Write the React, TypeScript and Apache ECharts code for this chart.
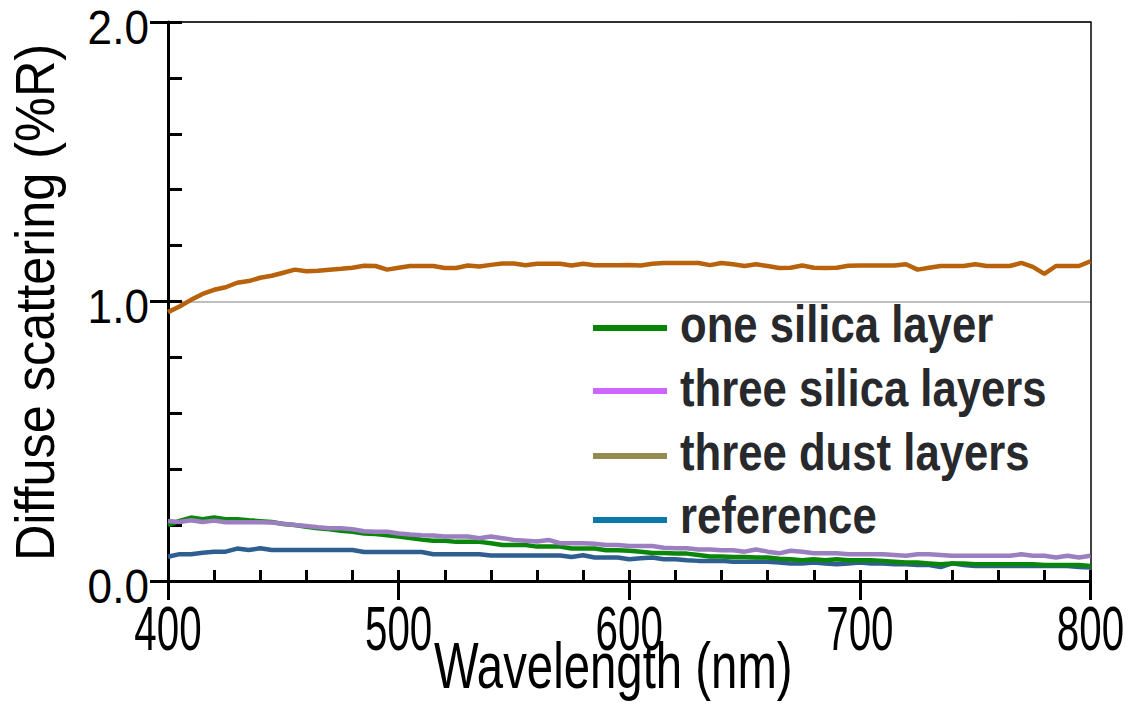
import React, { useEffect, useRef } from "react";
import * as echarts from "echarts";

const wavelengths = [
  400, 405, 410, 415, 420, 425, 430, 435, 440, 445, 450, 455, 460, 465, 470, 475, 480, 485, 490, 495,
  500, 505, 510, 515, 520, 525, 530, 535, 540, 545, 550, 555, 560, 565, 570, 575, 580, 585, 590, 595,
  600, 605, 610, 615, 620, 625, 630, 635, 640, 645, 650, 655, 660, 665, 670, 675, 680, 685, 690, 695,
  700, 705, 710, 715, 720, 725, 730, 735, 740, 745, 750, 755, 760, 765, 770, 775, 780, 785, 790, 795, 800,
];

const threeDust = [
  0.962, 0.982, 1.006, 1.027, 1.042, 1.051, 1.067, 1.073, 1.085, 1.092, 1.103, 1.114, 1.108, 1.11, 1.114, 1.117, 1.121, 1.128, 1.127, 1.114,
  1.121, 1.127, 1.127, 1.127, 1.12, 1.12, 1.129, 1.125, 1.131, 1.136, 1.136, 1.13, 1.135, 1.135, 1.135, 1.129, 1.135, 1.13, 1.13, 1.13,
  1.131, 1.129, 1.135, 1.138, 1.138, 1.138, 1.138, 1.13, 1.138, 1.133, 1.127, 1.133, 1.127, 1.12, 1.121, 1.129, 1.121, 1.12, 1.121, 1.128,
  1.129, 1.129, 1.129, 1.129, 1.133, 1.114, 1.121, 1.127, 1.127, 1.127, 1.133, 1.127, 1.127, 1.127, 1.138, 1.124, 1.099, 1.127, 1.127, 1.127, 1.144,
];

const oneSilica = [
  0.2, 0.215, 0.227, 0.221, 0.227, 0.221, 0.221, 0.217, 0.214, 0.211, 0.204, 0.2, 0.194, 0.189, 0.185, 0.18, 0.176, 0.17, 0.168, 0.164,
  0.159, 0.154, 0.148, 0.144, 0.144, 0.14, 0.14, 0.14, 0.135, 0.129, 0.129, 0.129, 0.123, 0.123, 0.123, 0.116, 0.116, 0.116, 0.11, 0.11,
  0.108, 0.105, 0.1, 0.1, 0.098, 0.098, 0.093, 0.088, 0.088, 0.086, 0.086, 0.084, 0.084, 0.08, 0.078, 0.074, 0.078, 0.074, 0.078, 0.074,
  0.074, 0.074, 0.072, 0.069, 0.066, 0.066, 0.063, 0.06, 0.063, 0.063, 0.06, 0.06, 0.06, 0.06, 0.06, 0.06, 0.057, 0.057, 0.057, 0.057, 0.054,
];

const threeSilica = [
  0.215, 0.211, 0.217, 0.211, 0.216, 0.21, 0.21, 0.21, 0.21, 0.209, 0.205, 0.2, 0.197, 0.192, 0.189, 0.189, 0.185, 0.178, 0.176, 0.176,
  0.17, 0.166, 0.164, 0.163, 0.159, 0.159, 0.159, 0.153, 0.159, 0.153, 0.147, 0.144, 0.141, 0.147, 0.135, 0.135, 0.135, 0.133, 0.129, 0.129,
  0.125, 0.125, 0.125, 0.119, 0.117, 0.117, 0.113, 0.113, 0.11, 0.11, 0.105, 0.113, 0.105, 0.099, 0.108, 0.105, 0.099, 0.099, 0.099, 0.096,
  0.096, 0.096, 0.096, 0.093, 0.09, 0.096, 0.096, 0.093, 0.09, 0.09, 0.09, 0.09, 0.09, 0.09, 0.096, 0.09, 0.09, 0.084, 0.09, 0.084, 0.09,
];

const reference = [
  0.087, 0.096, 0.096, 0.101, 0.105, 0.105, 0.116, 0.111, 0.117, 0.111, 0.111, 0.111, 0.111, 0.111, 0.111, 0.111, 0.111, 0.104, 0.104, 0.104,
  0.104, 0.104, 0.104, 0.096, 0.096, 0.096, 0.096, 0.096, 0.091, 0.091, 0.091, 0.091, 0.091, 0.091, 0.091, 0.086, 0.092, 0.084, 0.084, 0.084,
  0.078, 0.081, 0.084, 0.078, 0.078, 0.074, 0.072, 0.072, 0.072, 0.069, 0.069, 0.069, 0.069, 0.066, 0.063, 0.063, 0.066, 0.063, 0.06, 0.063,
  0.066, 0.063, 0.063, 0.06, 0.06, 0.057, 0.057, 0.05, 0.063, 0.057, 0.054, 0.054, 0.054, 0.054, 0.054, 0.054, 0.054, 0.054, 0.054, 0.05, 0.048,
];

const seriesNames = ["one silica layer", "three silica layers", "three dust layers", "reference"];
const lineColors = ["#0a870a", "#9b7fc0", "#b8620c", "#2f5f90"];
const legendColors = ["#068506", "#cc66ff", "#958b52", "#0a78aa"];

const xTickValues = [400, 500, 600, 700, 800];
const xTickLabels = ["400", "500", "600", "700", "800"];
const yTickValues = [0, 1, 2];
const yTickLabels = ["0.0", "1.0", "2.0"];
const xTitle = "Wavelength (nm)";
const yTitle = "Diffuse scattering (%R)";

const FONT = "'Liberation Sans', Arial, sans-serif";

export default function App() {
  const ref = useRef<HTMLDivElement>(null);

  useEffect(() => {
    document.body.style.margin = "0";
    if (!ref.current) return;
    const chart = echarts.init(ref.current, undefined, { renderer: "svg" });
    const pair = (vals: number[]) => wavelengths.map((w, i) => [w, vals[i]]);
    const dataSets = [oneSilica, threeSilica, threeDust, reference];
    const order = [3, 0, 1, 2];

    const tickStyle = { color: "#000", width: 3 };
    const option: any = {
      animation: false,
      backgroundColor: "#ffffff",
      grid: { left: 168, right: 47.5, top: 22, bottom: 127, containLabel: false, outerBoundsMode: "none" },
      xAxis: [
        {
          type: "value",
          min: 400,
          max: 800,
          interval: 100,
          position: "bottom",
          axisLine: { show: true, onZero: false, lineStyle: { color: "#000", width: 3 } },
          axisTick: { show: true, inside: true, length: 11, lineStyle: tickStyle },
          minorTick: { show: true, splitNumber: 5, length: 11, lineStyle: tickStyle },
          axisLabel: { show: false },
          splitLine: { show: false },
        },
        {
          type: "value",
          min: 400,
          max: 800,
          interval: 100,
          position: "bottom",
          axisLine: { show: false, onZero: false },
          axisTick: { show: true, inside: false, length: 19, lineStyle: tickStyle },
          axisLabel: { show: false },
          splitLine: { show: false },
        },
        {
          type: "value",
          min: 400,
          max: 800,
          position: "top",
          axisLine: { show: true, onZero: false, lineStyle: { color: "#000", width: 1.5 } },
          axisTick: { show: false },
          axisLabel: { show: false },
          splitLine: { show: false },
        },
      ],
      yAxis: [
        {
          type: "value",
          min: 0,
          max: 2,
          interval: 1,
          position: "left",
          axisLine: { show: true, onZero: false, lineStyle: { color: "#000", width: 3 } },
          axisTick: { show: true, inside: true, length: 14, lineStyle: tickStyle },
          minorTick: { show: true, splitNumber: 5, length: 14, lineStyle: tickStyle },
          axisLabel: { show: false },
          splitLine: { show: true, lineStyle: { color: "#a8a8a8", width: 1.5 } },
        },
        {
          type: "value",
          min: 0,
          max: 2,
          interval: 1,
          position: "left",
          axisLine: { show: false, onZero: false },
          axisTick: { show: true, inside: false, length: 18, lineStyle: tickStyle },
          axisLabel: { show: false },
          splitLine: { show: false },
        },
        {
          type: "value",
          min: 0,
          max: 2,
          position: "right",
          axisLine: { show: true, onZero: false, lineStyle: { color: "#000", width: 1.5 } },
          axisTick: { show: false },
          axisLabel: { show: false },
          splitLine: { show: false },
        },
      ],
      series: order.map((i) => ({
        name: seriesNames[i],
        type: "line",
        xAxisIndex: 0,
        yAxisIndex: 0,
        data: pair(dataSets[i]),
        showSymbol: false,
        symbol: "none",
        lineStyle: { color: lineColors[i], width: 4.5 },
        itemStyle: { color: lineColors[i] },
        z: 3,
      })),
    };

    chart.setOption(option);

    const xPix = (v: number) => chart.convertToPixel({ xAxisIndex: 0 }, v) as number;
    const yPix = (v: number) => chart.convertToPixel({ yAxisIndex: 0 }, v) as number;
    const x0 = xPix(400);
    const x1 = xPix(800);
    const yBottom = yPix(0);

    const txt = (text: string, x: number, y: number, opts: any) => ({
      type: "text",
      x,
      y,
      scaleX: opts.scaleX ?? 1,
      rotation: opts.rotation ?? 0,
      z: 10,
      style: {
        text,
        fontSize: opts.fontSize,
        fontFamily: FONT,
        fontWeight: opts.fontWeight ?? "normal",
        fill: opts.fill ?? "#000",
        align: opts.align ?? "center",
        textAlign: opts.align ?? "center",
        verticalAlign: "middle",
        textVerticalAlign: "middle",
      },
    });

    const graphics: any[] = [];
    xTickValues.forEach((v, i) => {
      graphics.push(txt(xTickLabels[i], xPix(v), yBottom + 47, { fontSize: 63, scaleX: 0.64 }));
    });
    yTickValues.forEach((v, i) => {
      graphics.push(txt(yTickLabels[i], 149, yPix(v) + 5, { fontSize: 48, scaleX: 0.92, align: "right" }));
    });
    graphics.push(txt(xTitle, (x0 + x1) / 2 - 16, yBottom + 85, { fontSize: 64, scaleX: 0.74 }));
    graphics.push(txt(yTitle, 35, (yPix(0) + yPix(2)) / 2 + 1, { fontSize: 56, scaleX: 0.9, rotation: Math.PI / 2 }));

    const legendTextY = [324, 388, 452, 515];
    const legendLineY = [328, 391, 456, 520];
    seriesNames.forEach((n, i) => {
      graphics.push({
        type: "rect",
        z: 10,
        shape: { x: 593, y: legendLineY[i] - 3, width: 74, height: 6 },
        style: { fill: legendColors[i] },
      });
      graphics.push(
        txt(n, 680, legendTextY[i], { fontSize: 52, scaleX: 0.84, align: "left", fontWeight: "bold", fill: "#27292c" })
      );
    });

    chart.setOption({ graphic: graphics });
    return () => chart.dispose();
  }, []);

  return <div ref={ref} style={{ width: 1138, height: 708 }} />;
}
